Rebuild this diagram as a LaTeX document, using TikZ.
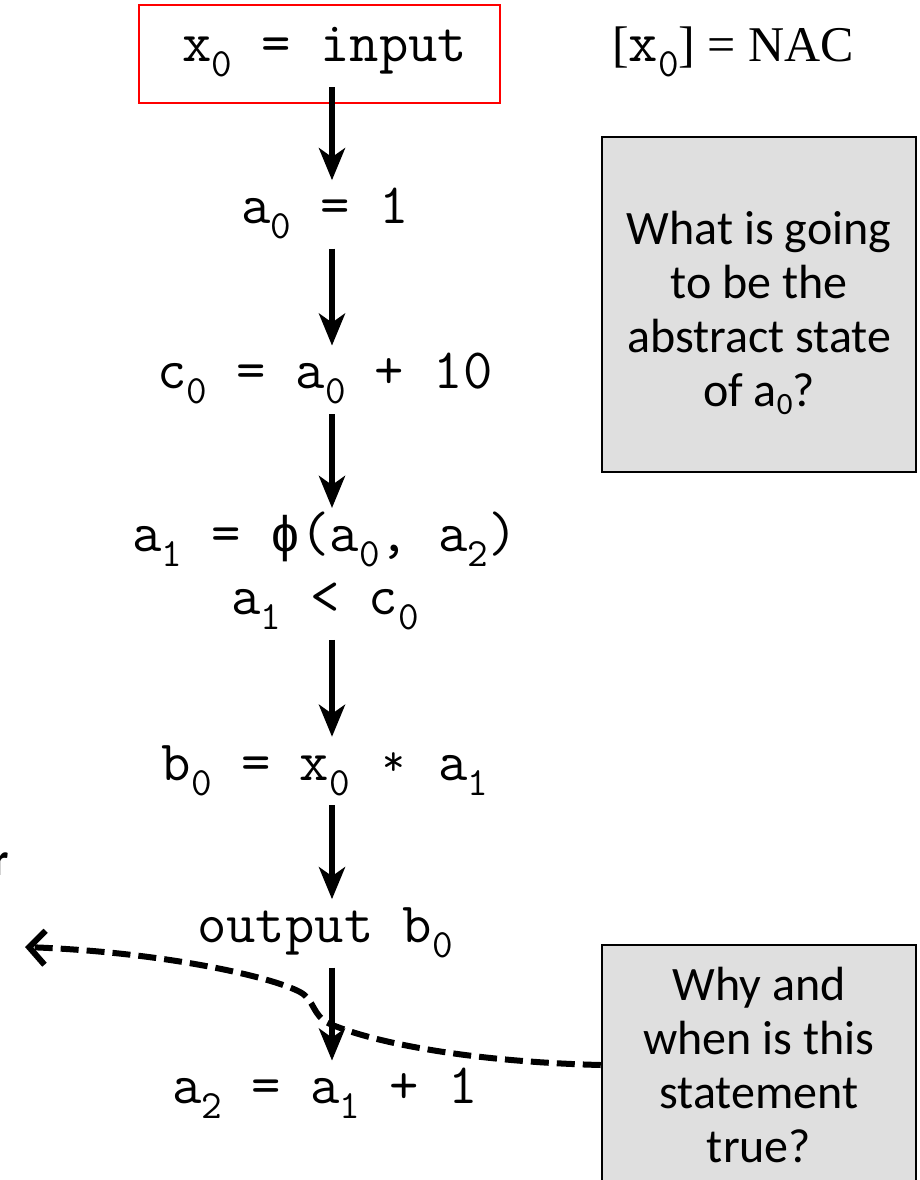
\documentclass[tikz,border=0pt]{standalone}
\usepackage{fontspec}
\setmainfont{Carlito}
\newfontfamily\nacfont{Liberation Serif}
\newfontfamily\phifont{Liberation Mono}
\usetikzlibrary{positioning, arrows.meta, calc}
\newcommand{\sub}[1]{\raisebox{-15pt}{\ttfamily\fontsize{40}{40}\selectfont #1}}
\newcommand{\qsub}[1]{\raisebox{-8pt}{\fontsize{31}{31}\selectfont #1}}
\newcommand{\mulstar}{\makebox[0.525em]{\raisebox{5pt}{\fontsize{44}{44}\selectfont *}}}

\begin{document}
\begin{tikzpicture}[
    x=1pt, y=1pt,
    code/.style={font=\ttfamily\fontsize{57}{66}\selectfont, inner sep=0pt, text height=43pt, text depth=25pt},
    flow/.style={-{Stealth[length=32pt, width=26pt, inset=9pt]}, line width=6pt},
    qbox/.style={draw, line width=2.5pt, fill=gray!25, minimum width=314pt, inner sep=0pt},
    qtext/.style={align=center, inner sep=0pt, font=\fontsize{48}{54}\selectfont},
    hint/.style={-{Straight Barb[length=16pt, width=34pt]}, line width=6pt, dash pattern=on 18pt off 8pt}
]
    \useasboundingbox (0,0) rectangle (919,-1180);

    \node[code, anchor=base] (x0) at (325,-62) {x\sub{0} = input};
    \node[draw=red, line width=2pt, minimum width=361pt, minimum height=98pt, inner sep=0pt] (inbox) at (319.5,-54) {};
    \node[code] (a0) [below=93pt of x0] {a\sub{0} = 1};
    \node[code] (c0) [below=97pt of a0] {c\sub{0} = a\sub{0} + 10};
    \node[code, text depth=16pt] (phi) [below=94pt of c0] {a\sub{1} = {\phifont\fontsize{50}{50}\selectfont ϕ}(a\sub{0}, a\sub{2})};
    \node[code] (cond) [below=4pt of phi] {a\sub{1} < c\sub{0}};
    \node[code] (b0) [below=97pt of cond] {b\sub{0} = x\sub{0} \mulstar{} a\sub{1}};
    \node[code] (out) [below=94pt of b0] {output b\sub{0}};
    \node[code] (a2) [below=93pt of out] {a\sub{2} = a\sub{1} + 1};

    \draw[flow] ([xshift=7pt]x0.south) -- ([xshift=7pt]a0.north);
    \draw[flow] ([xshift=7pt]a0.south) -- ([xshift=7pt]c0.north);
    \draw[flow] ([xshift=7pt]c0.south) -- ([xshift=7pt]phi.north);
    \draw[flow] ([xshift=7pt]cond.south) -- ([xshift=7pt]b0.north);
    \draw[flow] ([xshift=7pt]b0.south) -- ([xshift=7pt]out.north);
    \draw[flow] ([xshift=7pt]out.south) -- ([xshift=7pt]a2.north);

    % abstract value of the input
    \node[anchor=base west, inner sep=0pt, font=\nacfont\fontsize{50}{50}\selectfont] (nac) at (612,-62) {[{\ttfamily\fontsize{57}{57}\selectfont x}\sub{0}] = NAC};

    % questions
    \node[qbox, minimum height=335pt] (what) at (759,-304.5) {};
    \node[qtext] (whatq) at ([yshift=-8pt]what.center) {What is going\\to be the\\abstract state\\of a\qsub{0}?};
    \node[qbox, minimum height=240pt] (why) at (759,-1065) {};
    \node[qtext] (whyq) at (why.center) {Why and\\when is this\\statement\\true?};

    \coordinate (back) at (25,-947);
    \draw[hint] (why.west) .. controls (480,-1062) and (380,-1045) .. (330,-1024)
        .. controls (312,-1016) and (315,-1000) .. (300,-992)
        .. controls (270,-976) and (160,-952) .. (back);

    % cut-off text at the left edge
    \node[anchor=base east, inner sep=0pt, font=\fontsize{46}{46}\bfseries\selectfont] (cut) at (9,-875) {r};
\end{tikzpicture}
\end{document}
